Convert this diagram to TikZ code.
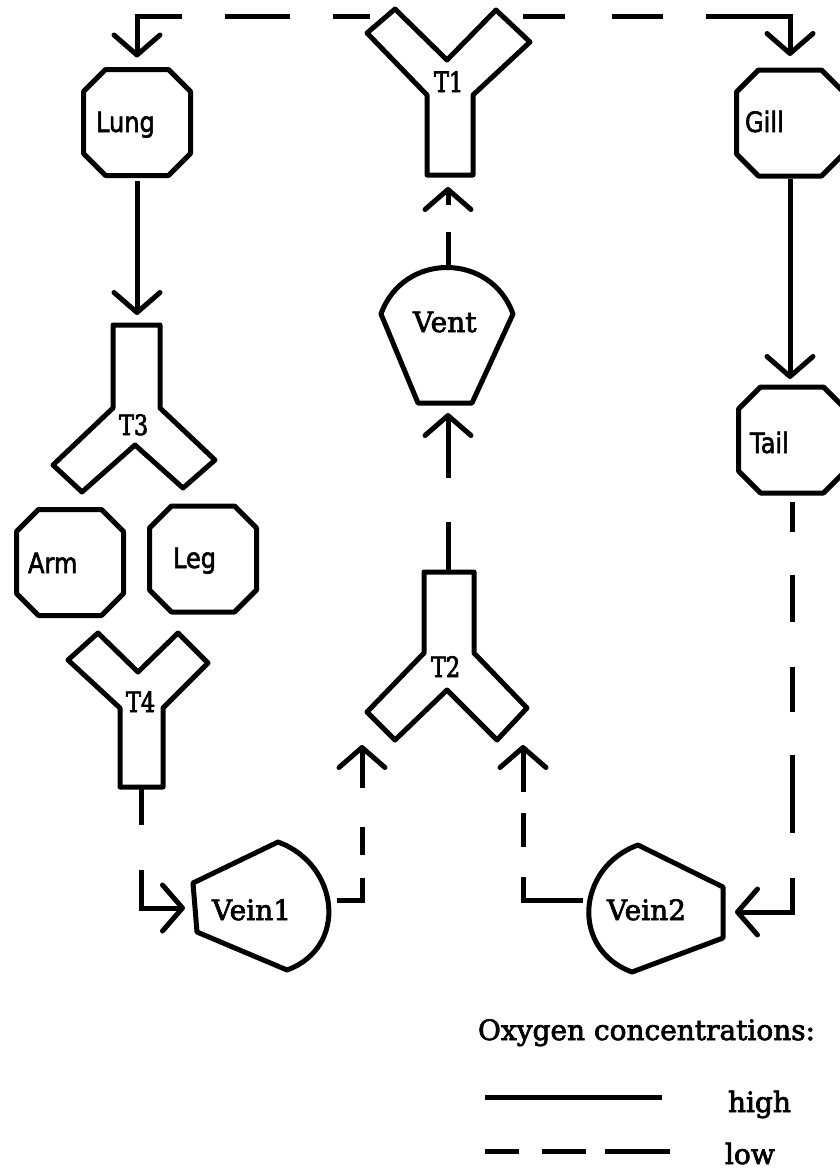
\documentclass[tikz,border=0pt]{standalone}
\usepackage{fontspec}
\setmainfont[FakeBold=2.5]{DejaVu Serif}
\newfontfamily\octfont[FakeStretch=0.86,FakeBold=2]{DejaVu Sans}
\newfontfamily\tlabfont[FakeStretch=0.8,FakeBold=2.5]{DejaVu Serif}
\usetikzlibrary{arrows.meta}
\newcommand\octpath[1]{%
  \draw[shapeline] ([xshift=22pt]#1.north west) -- ([xshift=-22pt]#1.north east)
    -- ([yshift=-22pt]#1.north east) -- ([yshift=22pt]#1.south east)
    -- ([xshift=-22pt]#1.south east) -- ([xshift=22pt]#1.south west)
    -- ([yshift=22pt]#1.south west) -- ([yshift=-22pt]#1.north west) -- cycle;}
\begin{document}
\begin{tikzpicture}[x=1pt,y=-1pt,
  every node/.style={inner sep=0pt, outer sep=0pt},
  organ/.style={rectangle, minimum width=107pt, minimum height=106pt},
  otext/.style={anchor=base west, font=\octfont\fontsize{28pt}{30pt}\selectfont},
  stext/.style={anchor=base west, font=\fontsize{28pt}{30pt}\selectfont},
  ttext/.style={anchor=base west, font=\tlabfont\fontsize{28pt}{30pt}\selectfont},
  shapeline/.style={draw, line width=5pt, line join=round},
  flow/.style={line width=5pt, -{Straight Barb[length=20pt,width=46pt,round]}},
  high/.style={flow},
  low/.style={flow, dash pattern=on 45pt off 42pt},
]
\fill[white] (0,0) rectangle (840,1171);
\useasboundingbox (0,0) rectangle (840,1171);

% organs (octagons)
\node[organ] (lung) at (137,122.5) {};
\node[organ] (gill) at (790,123) {};
\node[organ] (tail) at (792,440) {};
\node[organ] (arm) at (70,562.5) {};
\node[organ] (leg) at (203,559) {};
\octpath{lung}
\octpath{gill}
\octpath{tail}
\octpath{arm}
\octpath{leg}
\node[otext] (lunglbl) at (96,132) {Lung};
\node[otext] (gilllbl) at (745,132) {Gill};
\node[otext] (taillbl) at (750,453) {Tail};
\node[otext] (armlbl) at (28,573) {Arm};
\node[otext] (leglbl) at (173,568) {Leg};

% Y junctions
\draw[shapeline] (427,175) -- (427,95) -- (367,33) -- (395,9) -- (447,60) -- (496,10) -- (530,42) -- (473,95) -- (473,175) -- cycle;
\draw[shapeline] (113,325) -- (160,325) -- (160,408) -- (215,460) -- (183,488) -- (135,445) -- (82,492) -- (53,465) -- (113,408) -- cycle;
\draw[shapeline] (424,572) -- (474,572) -- (474,653) -- (527,708) -- (497,740) -- (447,690) -- (395,740) -- (367,712) -- (424,653) -- cycle;
\draw[shapeline] (120,787) -- (120,708) -- (68,660) -- (98,633) -- (138,672) -- (178,633) -- (208,663) -- (163,708) -- (163,787) -- cycle;
\node[ttext] (t1) at (434,92) {T1};
\node[ttext] (t2) at (431,677) {T2};
\node[ttext] (t3) at (119,435) {T3};
\node[ttext] (t4) at (126,712) {T4};

% chambers
\draw[shapeline] (381,314) .. controls (403,252) and (491,252) .. (513,314) -- (472,403) -- (418,403) -- cycle;
\draw[shapeline] (193,883) -- (278,842) .. controls (339.5,864.4) and (348.5,947.6) .. (287,970) -- (197,932) -- cycle;
\draw[shapeline] (723,887) -- (638,845) .. controls (576.5,867.4) and (570.5,949.6) .. (632,972) -- (723,938) -- cycle;
\node[stext] (vent) at (413,332) {Vent};
\node[stext] (vein1) at (212,920) {Vein1};
\node[stext] (vein2) at (607,920) {Vein2};

% ports
\coordinate (t1-w) at (386,16);
\coordinate (t1-e) at (503,16);
\coordinate (t1-s) at (448,175);
\coordinate (t3-n) at (137,325);
\coordinate (t4-s) at (141,787);
\coordinate (t2-n) at (448,572);
\coordinate (t2-lin) at (362,735);
\coordinate (t2-rin) at (523,735);
\coordinate (vent-n) at (448,267);
\coordinate (vent-s) at (448,403);
\coordinate (vein1-w) at (195,908);
\coordinate (vein1-e) at (330,900);
\coordinate (vein2-w) at (590,900);
\coordinate (vein2-e) at (725,912);

% connectors
\draw[low, dash pattern=on 37pt off 43pt on 65pt off 43pt on 400pt off 16pt, dash phase=588pt, shorten >=12pt] (t1-w) -| (lung.north);
\draw[low, dash pattern=on 42pt off 47pt on 51pt off 43pt on 400pt off 20pt, dash phase=583pt, shorten >=14pt] (t1-e) -| (gill.north);
\draw[high, shorten <=3pt, shorten >=8pt] (gill.south) -- (gill.south |- tail.north);
\draw[high, shorten <=5pt, shorten >=10pt] (lung.south) -- (t3-n);
\draw[low, dash pattern=on 30pt off 43pt on 47pt off 45pt on 45pt off 43pt on 78pt off 45pt on 400pt off 4pt, dash phase=776pt, shorten <=5pt, shorten >=10pt] (tail.south) |- (vein2-e);
\draw[low, dash pattern=on 83pt off 30pt on 34pt off 21pt on 400pt off 10pt, shorten <=7pt, shorten >=10pt] (vein2-w) -| (t2-rin);
\draw[low, dash pattern=on 47pt off 23pt on 28pt off 39pt on 400pt off 10pt, shorten <=7pt, shorten >=10pt] (vein1-e) -| (t2-lin);
\draw[low, dash pattern=on 38pt off 45pt on 400pt off 10pt, shorten >=10pt] (t4-s) |- (vein1-w);
\draw[low, dash pattern=on 50pt off 44pt on 400pt off 10pt, shorten >=10pt] (t2-n) -- (vent-s);
\draw[low, dash pattern=on 35pt off 27pt on 400pt off 10pt, shorten >=12pt] (vent-n) -- (t1-s);

% legend
\node[stext] (legtitle) at (478,1040) {Oxygen concentrations:};
\coordinate (hi-a) at (485,1097);
\coordinate (hi-b) at (662,1097);
\coordinate (lo-a) at (485,1151);
\coordinate (lo-b) at (670,1151);
\draw[line width=5pt] (hi-a) -- (hi-b);
\draw[line width=5pt, dash pattern=on 34pt off 23pt on 44pt off 19pt on 65pt off 20pt] (lo-a) -- (lo-b);
\node[stext] (highlbl) at (728,1112) {high};
\node[stext] (lowlbl) at (725,1164) {low};
\end{tikzpicture}
\end{document}
